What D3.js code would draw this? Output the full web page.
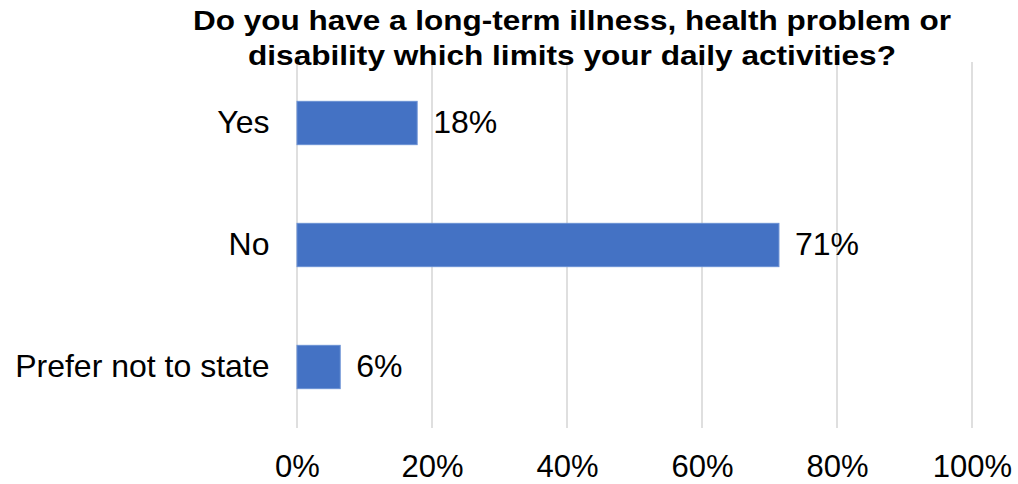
<!DOCTYPE html>
<html>
<head>
<meta charset="utf-8">
<script src="https://cdn.jsdelivr.net/npm/d3@7"></script>
<style>
  html, body { margin: 0; padding: 0; background: #fff; }
  svg { display: block; font-family: "Liberation Sans", Arial, sans-serif; }
</style>
</head>
<body>
<svg id="chart" width="1018" height="484"></svg>
<script>
const titleLines = ["Do you have a long-term illness, health problem or",
                    "disability which limits your daily activities?"];
const categories = ["Yes", "No", "Prefer not to state"];
const values = [17.8, 71.4, 6.4];
const valueLabels = ["18%", "71%", "6%"];
const tickValues = [0, 20, 40, 60, 80, 100];

const svg = d3.select("#chart");
const x = d3.scaleLinear().domain([0, 100]).range([297, 972]);
const y = d3.scaleBand().domain(categories).range([62, 428]).paddingInner(0.645).paddingOuter(0.3225);

// gridlines
svg.append("g").selectAll("line").data(tickValues).join("line")
  .attr("x1", d => x(d)).attr("x2", d => x(d))
  .attr("y1", 62).attr("y2", 428)
  .attr("stroke", "#d4d4d4").attr("stroke-width", 1.5);

// bars
svg.append("g").selectAll("rect").data(categories).join("rect")
  .attr("x", x(0)).attr("y", d => y(d))
  .attr("width", (d, i) => x(values[i]) - x(0))
  .attr("height", y.bandwidth())
  .attr("fill", "#4472C4").attr("stroke", "#6a90d4").attr("stroke-width", 1);

// value labels
svg.append("g").selectAll("text").data(categories).join("text")
  .attr("x", (d, i) => x(values[i]) + 16)
  .attr("y", d => y(d) + y.bandwidth() / 2)
  .attr("dy", "0.32em")
  .attr("font-size", 32).attr("fill", "#000")
  .text((d, i) => valueLabels[i]);

// category axis labels
svg.append("g").selectAll("text").data(categories).join("text")
  .attr("x", 269.5)
  .attr("y", d => y(d) + y.bandwidth() / 2)
  .attr("dy", "0.32em")
  .attr("text-anchor", "end")
  .attr("font-size", 32).attr("fill", "#000")
  .text(d => d);

// x axis tick labels
const xAxis = d3.axisBottom(x).tickValues(tickValues).tickFormat(d => d + "%").tickSize(0).tickPadding(0);
const gx = svg.append("g").attr("transform", "translate(0,477)").call(xAxis);
gx.select(".domain").remove();
gx.selectAll("text").attr("font-size", 31).attr("fill", "#000")
  .attr("font-family", "Liberation Sans, Arial, sans-serif")
  .attr("y", 0).attr("dy", 0);

// title
const titleWidths = [758, 648];
const titleBaselines = [30, 65];
svg.append("g").selectAll("text").data(titleLines).join("text")
  .attr("x", 572).attr("y", (d, i) => titleBaselines[i])
  .attr("text-anchor", "middle")
  .attr("font-size", 28).attr("font-weight", "bold").attr("fill", "#000")
  .attr("textLength", (d, i) => titleWidths[i])
  .attr("lengthAdjust", "spacingAndGlyphs")
  .text(d => d);
</script>
</body>
</html>
